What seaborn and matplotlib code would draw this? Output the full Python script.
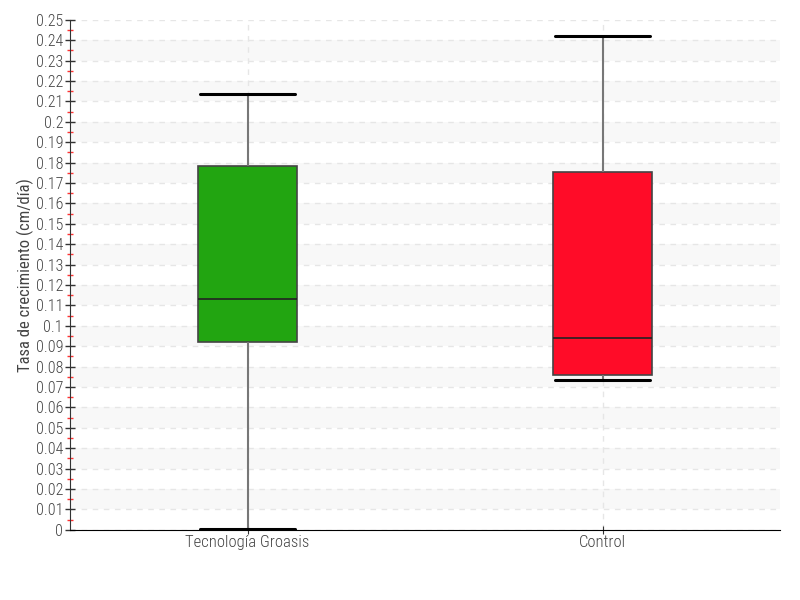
import numpy as np
import pandas as pd
import matplotlib
matplotlib.use("Agg")
import matplotlib.pyplot as plt
import seaborn as sns
from matplotlib.ticker import MultipleLocator

# five-number summaries (min, q1, median, q3, max)
groups = ["Tecnología Groasis", "Control"]
groasis_vals = [0.0005, 0.0922, 0.1132, 0.1784, 0.2137]
control_vals = [0.0735, 0.0760, 0.0941, 0.1755, 0.2422]
box_colors = ["#22A511", "#FF0C28"]

df = pd.DataFrame({
    "grupo": [groups[0]] * len(groasis_vals) + [groups[1]] * len(control_vals),
    "tasa": groasis_vals + control_vals,
})

sns.set_style("white")
plt.rcParams['font.family'] = ['Roboto Condensed', 'Roboto', 'DejaVu Sans']
plt.rcParams['font.weight'] = 'light'

fig, ax = plt.subplots(figsize=(8, 6), dpi=100)
fig.subplots_adjust(left=0.0875, right=0.975, top=0.967, bottom=0.117)

# alternating background bands and dashed grid
for k in range(25):
    if k % 2 == 1:
        ax.axhspan(k * 0.01, (k + 1) * 0.01, color="#f8f8f8", zorder=0, lw=0)
for k in range(26):
    ax.axhline(k * 0.01, color="#e6e6e6", lw=1, ls=(0, (4, 4)), zorder=0.5)
for x in range(len(groups)):
    ax.axvline(x, color="#e6e6e6", lw=1, ls=(0, (4, 4)), zorder=0.5)

sns.boxplot(
    data=df, x="grupo", y="tasa", hue="grupo", palette=box_colors,
    order=groups, hue_order=groups, legend=False, whis=10,
    width=0.28, dodge=False, ax=ax, saturation=1,
    boxprops=dict(edgecolor="#444444", linewidth=1.2),
    medianprops=dict(color="#222222", linewidth=1.2),
    whiskerprops=dict(color="#777777", linewidth=1.5),
    capprops=dict(color="black", linewidth=2.2),
    showfliers=False,
)

# widen the caps to nearly the full box width
for ln in ax.lines:
    if ln.get_linewidth() == 2.2:
        xd = np.asarray(ln.get_xdata(), dtype=float)
        c = xd.mean()
        ln.set_xdata([c - 0.135, c + 0.135])

ax.set_xlim(-0.5, 1.5)
ax.set_ylim(0, 0.25)
ax.yaxis.set_minor_locator(MultipleLocator(0.005))
ax.set_yticks(np.arange(0, 0.2501, 0.01))
ax.set_yticklabels(["0"] + [("%.2f" % v).rstrip("0") for v in np.arange(0.01, 0.2501, 0.01)])
ax.tick_params(axis="y", which="major", direction="inout", length=7, width=1,
               color="#333333", labelsize=11.5, labelcolor="#444444", left=True, pad=1.5)
ax.tick_params(axis="y", which="minor", direction="inout", length=4, width=1,
               color="#ff3333", left=True)
ax.tick_params(axis="x", direction="inout", length=6, color="#333333",
               labelsize=12, labelcolor="#444444", bottom=True, pad=1)

for side in ["top", "right"]:
    ax.spines[side].set_visible(False)
ax.spines["left"].set_color("#333333")
ax.spines["bottom"].set_color("black")

ax.set_xlabel("")
ax.set_ylabel("Tasa de crecimiento (cm/día)", fontsize=12, color="#444444", labelpad=1)

fig.savefig("out.png", dpi=100)
